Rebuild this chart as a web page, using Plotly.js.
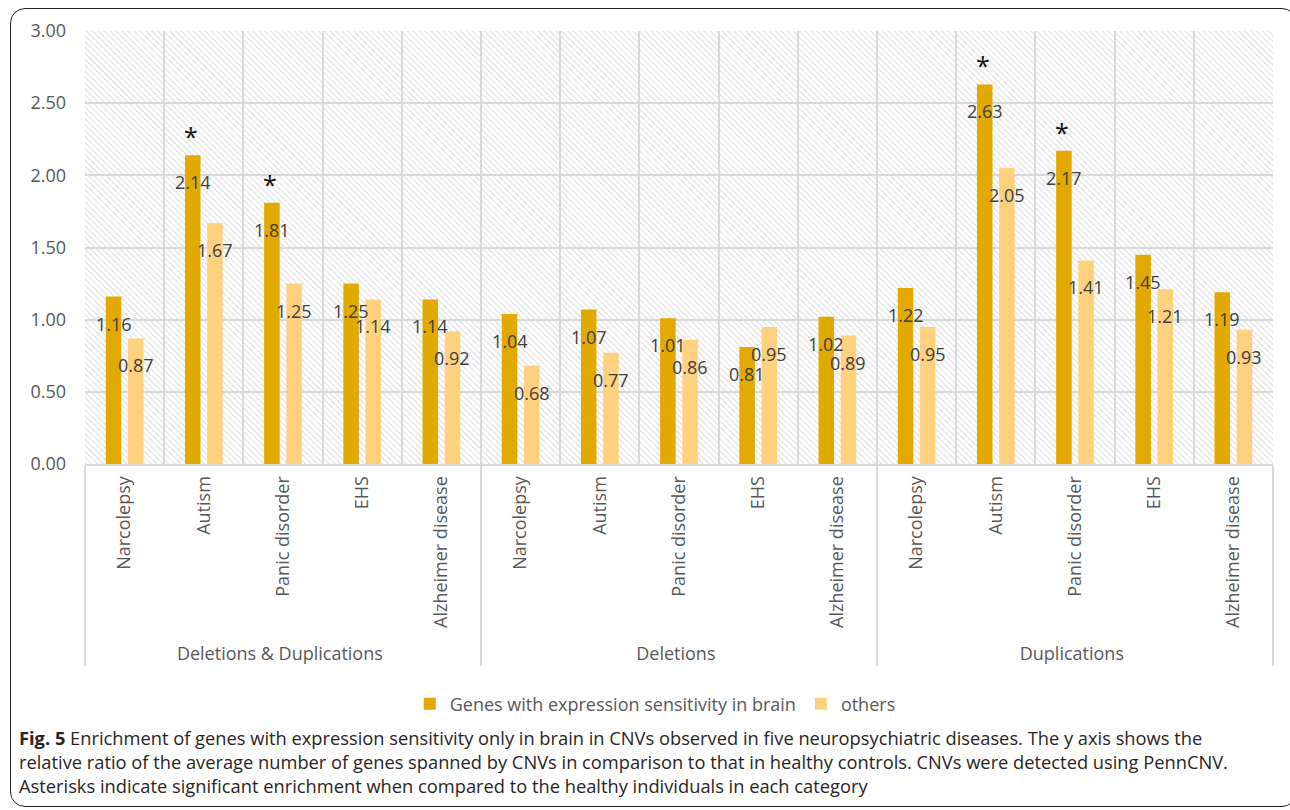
<!DOCTYPE html>
<html>
<head>
<meta charset="utf-8">
<script src="https://cdn.plot.ly/plotly-3.0.1.min.js"></script>
<style>
  html, body { margin: 0; padding: 0; background: #fff; overflow: hidden; }
  #wrap { position: relative; width: 1290px; height: 810px; }
  #chart { position: absolute; left: 0; top: 0; width: 1290px; height: 810px; }
  #frame { position: absolute; left: 10px; top: 8px; width: 1287px; height: 799px;
           border: 1.6px solid #222; border-radius: 15px; box-sizing: border-box; pointer-events: none; }
</style>
</head>
<body>
<div id="wrap"><div id="chart"></div><div id="frame"></div></div>
<script>
// ---- data ----
const groups = ['Deletions & Duplications', 'Deletions', 'Duplications'];
const diseases = ['Narcolepsy', 'Autism', 'Panic disorder', 'EHS', 'Alzheimer disease'];
const brainDD  = [1.16, 2.14, 1.81, 1.25, 1.14];
const brainDel = [1.04, 1.07, 1.01, 0.81, 1.02];
const brainDup = [1.22, 2.63, 2.17, 1.45, 1.19];
const otherDD  = [0.87, 1.67, 1.25, 1.14, 0.92];
const otherDel = [0.68, 0.77, 0.86, 0.95, 0.89];
const otherDup = [0.95, 2.05, 1.41, 1.21, 0.93];
const significant = [
  [false, true, true, false, false],
  [false, false, false, false, false],
  [false, true, true, false, false]
];
const seriesNames = ['Genes with expression sensitivity in brain', 'others'];
const yTickVals = [0, 0.5, 1, 1.5, 2, 2.5, 3];
const captionLines = [
  '<b>Fig. 5</b> Enrichment of genes with expression sensitivity only in brain in CNVs observed in five neuropsychiatric diseases. The y axis shows the',
  'relative ratio of the average number of genes spanned by CNVs in comparison to that in healthy controls. CNVs were detected using PennCNV.',
  'Asterisks indicate significant enrichment when compared to the healthy individuals in each category'
];

// ---- build ----
const brain = [].concat(brainDD, brainDel, brainDup);
const other = [].concat(otherDD, otherDel, otherDup);
const sig = [].concat(...significant);
const xOuter = [], xInner = [];
groups.forEach(g => diseases.forEach(d => { xOuter.push(g); xInner.push(d); }));

const W = 1290, H = 810;
const M = {l: 85, r: 17, t: 31, b: 346};
const pw = W - M.l - M.r, ph = H - M.t - M.b;
const px2x = px => (px - M.l) / pw;
const py2y = py => (H - M.b - py) / ph;

const GOLD = '#E2A900', LIGHT = '#FFD17F';
const bargap = 0.44, bargroupgap = 0.30;
const catPx = pw / brain.length;
const shift = (1 - bargap) / 4 * catPx;

const traces = [
  {type: 'bar', name: seriesNames[0], x: [xOuter, xInner], y: brain, marker: {color: GOLD}, hoverinfo: 'y'},
  {type: 'bar', name: seriesNames[1], x: [xOuter, xInner], y: other, marker: {color: LIGHT}, hoverinfo: 'y'}
];

const FS = 18;
const labelFont = {family: 'Open Sans', size: FS, color: '#404040'};
const annotations = [];
brain.forEach((v, i) => {
  annotations.push({x: i, y: v, xref: 'x', yref: 'y', text: v.toFixed(2), showarrow: false,
    xshift: -shift, yshift: -27, yanchor: 'middle', font: labelFont});
  if (sig[i]) annotations.push({x: i, y: v, xref: 'x', yref: 'y', text: '*', showarrow: false,
    xshift: -shift - 2, yshift: 0, yanchor: 'bottom', font: {family: 'Open Sans', size: 25, color: '#111'}});
});
other.forEach((v, i) => {
  annotations.push({x: i, y: v, xref: 'x', yref: 'y', text: v.toFixed(2), showarrow: false,
    xshift: shift, yshift: -27, yanchor: 'middle', font: labelFont});
});
annotations.push({xref: 'paper', yref: 'paper', x: px2x(17), y: py2y(723), xanchor: 'left', yanchor: 'top',
  text: captionLines.join('<br>'), showarrow: false, align: 'left',
  font: {family: 'Open Sans', size: 18.3, color: '#2a2526'}});

// hatch background
const svg = `<svg xmlns='http://www.w3.org/2000/svg' width='${pw}' height='${ph}' viewBox='0 0 ${pw} ${ph}' preserveAspectRatio='none'>` +
  `<defs><pattern id='h' width='4.2' height='4.2' patternUnits='userSpaceOnUse' patternTransform='rotate(-45)'>` +
  `<line x1='1' y1='0' x2='1' y2='4.2' stroke='#dedede' stroke-width='1.1'/></pattern></defs>` +
  `<rect width='100%' height='100%' fill='#fff'/><rect width='100%' height='100%' fill='url(#h)'/></svg>`;

const layout = {
  width: W, height: H,
  margin: M,
  paper_bgcolor: 'rgba(0,0,0,0)',
  plot_bgcolor: 'rgba(0,0,0,0)',
  barmode: 'group', bargap: bargap, bargroupgap: bargroupgap,
  font: {family: 'Open Sans', size: FS, color: '#595959'},
  showlegend: true,
  legend: {orientation: 'h', x: 0.48, xanchor: 'center', y: py2y(704), yanchor: 'middle',
           font: {family: 'Open Sans', size: FS, color: '#595959'}, traceorder: 'normal'},
  xaxis: {
    type: 'multicategory', tickangle: -90, tickson: 'boundaries',
    showgrid: true, gridcolor: '#d9d9d9', gridwidth: 2,
    showline: true, linecolor: '#d9d9d9', linewidth: 2,
    ticks: '', showdividers: true, dividercolor: '#d9d9d9', dividerwidth: 2,
    ticklabelstandoff: 3,
    tickfont: {family: 'Open Sans', size: FS, color: '#595959'}
  },
  yaxis: {
    range: [0, 3], tickvals: yTickVals, tickformat: '.2f',
    showgrid: true, gridcolor: '#d9d9d9', gridwidth: 2, zeroline: false, showline: false,
    ticks: '', ticklabelstandoff: 18,
    tickfont: {family: 'Open Sans', size: FS, color: '#595959'}
  },
  images: [{source: 'data:image/svg+xml;charset=utf-8,' + encodeURIComponent(svg),
            xref: 'paper', yref: 'paper', x: 0, y: 1, sizex: 1, sizey: 1,
            sizing: 'stretch', xanchor: 'left', yanchor: 'top', layer: 'below'}],
  annotations: annotations
};

Plotly.newPlot('chart', traces, layout, {displayModeBar: false, staticPlot: true});
</script>
</body>
</html>
